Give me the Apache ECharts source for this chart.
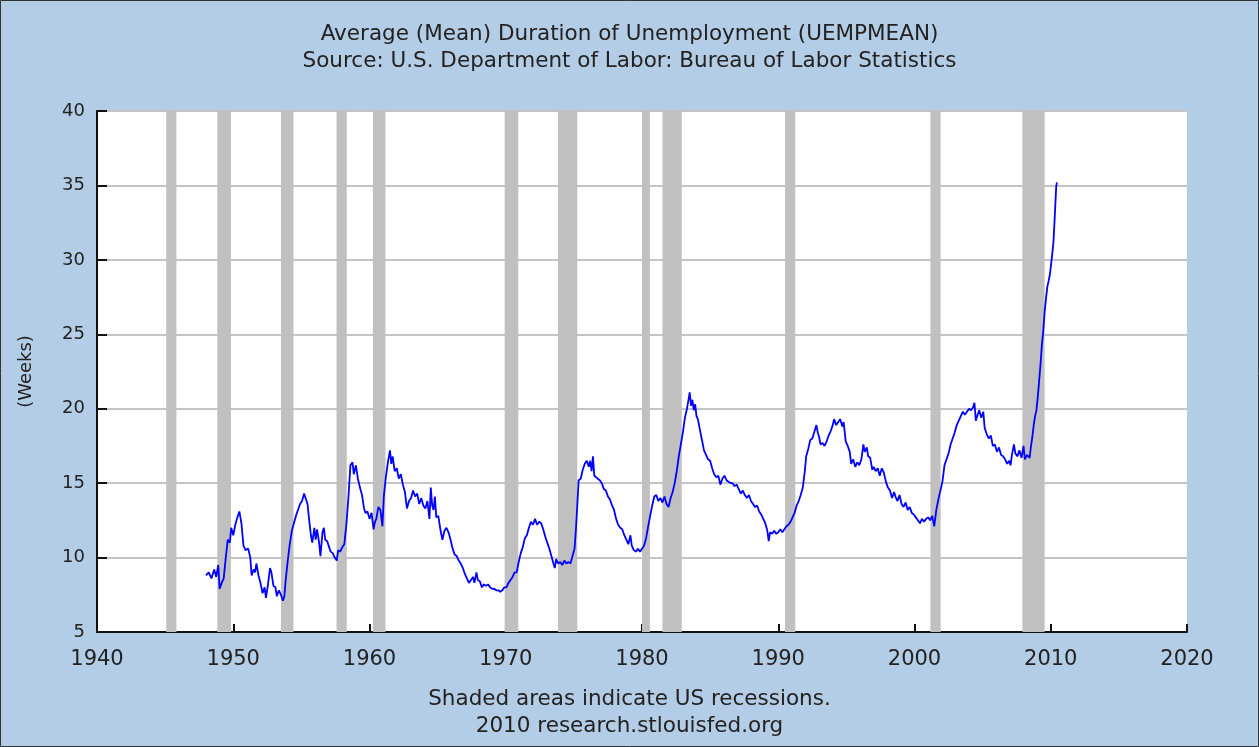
<!DOCTYPE html>
<html>
<head>
<meta charset="utf-8">
<title>UEMPMEAN</title>
<script src="https://cdn.jsdelivr.net/npm/echarts@6/dist/echarts.min.js"></script>
<style>
  html, body { margin: 0; padding: 0; background: #B4CDE6; }
  #main { width: 1259px; height: 747px; }
</style>
</head>
<body>
<div id="main"></div>
<script>
// 日期（小数年）
const dates = [
  1948.0, 1948.2, 1948.4, 1948.6, 1948.75, 1948.9, 1949.0, 1949.15, 1949.3, 1949.45, 1949.6, 1949.75, 1949.85,
  1950.0, 1950.15, 1950.3, 1950.45, 1950.6, 1950.75, 1950.9, 1951.1, 1951.25, 1951.35, 1951.5, 1951.6, 1951.7, 1951.85,
  1952.0, 1952.15, 1952.3, 1952.4, 1952.55, 1952.7, 1952.8, 1952.95, 1953.1, 1953.2, 1953.35, 1953.5, 1953.65, 1953.75, 1953.85,
  1954.0, 1954.15, 1954.3, 1954.45, 1954.6, 1954.75, 1954.9, 1955.05, 1955.2, 1955.3, 1955.45, 1955.6, 1955.7, 1955.8, 1955.95,
  1956.05, 1956.15, 1956.3, 1956.4, 1956.55, 1956.65, 1956.75, 1956.9, 1957.0, 1957.15, 1957.3, 1957.45, 1957.6, 1957.7, 1957.85,
  1958.0, 1958.15, 1958.3, 1958.45, 1958.6, 1958.75, 1958.85, 1959.0, 1959.15, 1959.3, 1959.45, 1959.6, 1959.7, 1959.85,
  1960.0, 1960.15, 1960.3, 1960.4, 1960.5, 1960.65, 1960.8, 1960.95, 1961.05, 1961.2, 1961.35, 1961.5, 1961.6, 1961.7, 1961.85,
  1962.0, 1962.15, 1962.3, 1962.45, 1962.6, 1962.75, 1962.9, 1963.05, 1963.2, 1963.35, 1963.5, 1963.65, 1963.8, 1963.95,
  1964.1, 1964.25, 1964.4, 1964.5, 1964.6, 1964.7, 1964.8, 1964.9, 1965.05, 1965.2, 1965.35, 1965.5, 1965.65, 1965.8, 1965.95,
  1966.1, 1966.25, 1966.4, 1966.55, 1966.7, 1966.85, 1967.0, 1967.15, 1967.3, 1967.45, 1967.6, 1967.7, 1967.85, 1967.95,
  1968.1, 1968.25, 1968.4, 1968.55, 1968.7, 1968.85, 1969.0, 1969.15, 1969.3, 1969.45, 1969.6, 1969.75, 1969.9,
  1970.05, 1970.2, 1970.35, 1970.5, 1970.65, 1970.8, 1970.95, 1971.1, 1971.25, 1971.4, 1971.55, 1971.7, 1971.85,
  1972.0, 1972.15, 1972.3, 1972.45, 1972.6, 1972.75, 1972.9, 1973.05, 1973.2, 1973.35, 1973.5, 1973.6, 1973.7, 1973.85,
  1974.0, 1974.15, 1974.3, 1974.45, 1974.6, 1974.75, 1974.9, 1975.05, 1975.15, 1975.25, 1975.35, 1975.5, 1975.65, 1975.8, 1975.95,
  1976.1, 1976.2, 1976.3, 1976.4, 1976.5, 1976.6, 1976.75, 1976.9, 1977.05, 1977.2, 1977.35, 1977.5, 1977.65, 1977.8, 1977.95,
  1978.1, 1978.25, 1978.4, 1978.55, 1978.7, 1978.85, 1979.0, 1979.15, 1979.25, 1979.4, 1979.55, 1979.7, 1979.85,
  1980.0, 1980.15, 1980.3, 1980.45, 1980.6, 1980.75, 1980.9, 1981.05, 1981.2, 1981.35, 1981.5, 1981.65, 1981.8, 1981.95,
  1982.1, 1982.25, 1982.4, 1982.55, 1982.7, 1982.85, 1983.0, 1983.15, 1983.3, 1983.45, 1983.5, 1983.6, 1983.7, 1983.8, 1983.9,
  1984.0, 1984.1, 1984.25, 1984.4, 1984.55, 1984.7, 1984.85, 1985.0, 1985.15, 1985.3, 1985.45, 1985.6, 1985.75, 1985.9,
  1986.05, 1986.2, 1986.35, 1986.5, 1986.65, 1986.8, 1986.95, 1987.1, 1987.25, 1987.4, 1987.55, 1987.7, 1987.85,
  1988.0, 1988.15, 1988.3, 1988.45, 1988.6, 1988.75, 1988.9, 1989.05, 1989.2, 1989.3, 1989.4, 1989.55, 1989.7, 1989.85,
  1990.0, 1990.15, 1990.3, 1990.45, 1990.6, 1990.75, 1990.9, 1991.05, 1991.2, 1991.35, 1991.5, 1991.65, 1991.8, 1991.95,
  1992.05, 1992.2, 1992.35, 1992.5, 1992.6, 1992.7, 1992.8, 1992.9, 1993.0, 1993.1, 1993.25, 1993.4, 1993.55, 1993.7, 1993.85,
  1994.0, 1994.1, 1994.25, 1994.4, 1994.55, 1994.7, 1994.8, 1994.95, 1995.1, 1995.25, 1995.35, 1995.5, 1995.65, 1995.8, 1995.95,
  1996.1, 1996.25, 1996.35, 1996.5, 1996.6, 1996.75, 1996.9, 1997.0, 1997.15, 1997.3, 1997.45, 1997.6, 1997.75, 1997.9,
  1998.05, 1998.2, 1998.35, 1998.5, 1998.6, 1998.75, 1998.9, 1999.05, 1999.2, 1999.35, 1999.5, 1999.65, 1999.8, 1999.95,
  2000.1, 2000.25, 2000.4, 2000.55, 2000.7, 2000.85, 2001.0, 2001.15, 2001.3, 2001.45, 2001.6, 2001.75, 2001.9,
  2002.05, 2002.2, 2002.35, 2002.5, 2002.65, 2002.8, 2002.95, 2003.1, 2003.25, 2003.4, 2003.55, 2003.7, 2003.85,
  2004.0, 2004.15, 2004.3, 2004.4, 2004.5, 2004.6, 2004.75, 2004.9, 2005.05, 2005.15, 2005.3, 2005.45, 2005.6, 2005.75, 2005.9,
  2006.05, 2006.2, 2006.35, 2006.5, 2006.65, 2006.8, 2006.95, 2007.05, 2007.15, 2007.3, 2007.4, 2007.55, 2007.7, 2007.85,
  2008.0, 2008.1, 2008.25, 2008.35, 2008.45, 2008.55, 2008.65, 2008.75, 2008.85, 2008.95,
  2009.05, 2009.15, 2009.25, 2009.35, 2009.45, 2009.55, 2009.65, 2009.75, 2009.85, 2009.95,
  2010.05, 2010.1, 2010.2, 2010.3, 2010.4, 2010.45
]
// 平均失业周数
const weeks = [
  8.8, 9.0, 8.6, 9.2, 8.7, 9.5, 7.9, 8.3, 8.6, 10.0, 11.2, 11.0, 12.0,
  11.5, 12.2, 12.7, 13.1, 12.3, 10.8, 10.5, 10.6, 10.0, 8.8, 9.2, 9.0, 9.6, 8.8,
  8.3, 7.6, 8.0, 7.3, 8.2, 9.3, 9.0, 8.1, 8.0, 7.4, 7.8, 7.5, 7.1, 7.4, 8.5,
  9.8, 10.9, 11.8, 12.3, 12.8, 13.2, 13.6, 13.8, 14.3, 14.4, 13.6, 12.3, 11.5, 11.0, 12.0,
  11.2, 11.9, 11.0, 10.1, 11.7, 12.0, 11.2, 11.1, 10.8, 10.4, 10.3, 10.0, 9.8, 10.5, 10.4,
  10.7, 10.9, 12.2, 14.0, 16.2, 16.4, 15.6, 16.2, 15.3, 14.7, 14.2, 13.3, 13.0, 13.1,
  12.6, 13.0, 11.9, 12.4, 12.6, 13.4, 13.2, 12.1, 14.1, 15.4, 16.4, 17.2, 16.3, 16.8, 15.8,
  16.0, 15.3, 15.6, 14.9, 14.4, 13.3, 13.8, 14.0, 14.5, 14.1, 14.3, 13.6, 14.0, 13.5,
  13.3, 13.8, 12.6, 14.7, 13.5, 13.2, 14.1, 12.7, 12.8, 11.9, 11.2, 11.8, 12.0, 11.7, 11.2,
  10.6, 10.2, 10.1, 9.8, 9.6, 9.3, 8.9, 8.6, 8.3, 8.5, 8.7, 8.3, 9.0, 8.5,
  8.4, 8.0, 8.2, 8.1, 8.2, 8.0, 7.9, 7.9, 7.8, 7.8, 7.7, 7.8, 8.0,
  8.0, 8.3, 8.5, 8.7, 9.0, 9.0, 9.7, 10.3, 10.7, 11.3, 11.5, 12.0, 12.4,
  12.2, 12.6, 12.2, 12.4, 12.3, 11.9, 11.4, 11.0, 10.6, 10.1, 9.6, 9.3, 9.9, 9.6,
  9.7, 9.5, 9.8, 9.6, 9.7, 9.6, 10.1, 10.6, 11.9, 13.5, 15.2, 15.3, 15.9, 16.3, 16.5,
  16.1, 16.5, 15.8, 16.8, 15.5, 15.6, 15.3, 15.2, 15.0, 14.6, 14.5, 14.1, 13.9, 13.5, 13.2,
  12.6, 12.2, 12.0, 11.9, 11.5, 11.2, 10.9, 11.5, 10.8, 10.5, 10.4, 10.6, 10.4,
  10.6, 10.8, 11.3, 12.1, 12.8, 13.5, 14.1, 14.2, 13.8, 14.0, 13.7, 14.1, 13.6, 13.4,
  14.0, 14.4, 15.0, 15.8, 16.8, 17.6, 18.4, 19.4, 20.0, 20.8, 21.1, 20.2, 20.6, 19.9, 20.3,
  19.5, 19.3, 18.6, 17.9, 17.2, 16.9, 16.6, 16.5, 16.0, 15.6, 15.4, 15.5, 14.9, 15.3,
  15.5, 15.2, 15.1, 15.0, 15.0, 14.8, 14.9, 14.6, 14.3, 14.5, 14.2, 14.0, 14.2,
  13.8, 13.6, 13.4, 13.5, 13.1, 12.9, 12.6, 12.3, 11.8, 11.1, 11.7, 11.6, 11.8, 11.6,
  11.7, 11.9, 11.7, 11.9, 12.1, 12.2, 12.4, 12.7, 13.0, 13.5, 13.8, 14.2, 14.7, 15.8,
  16.8, 17.3, 17.9, 18.0, 18.3, 18.6, 18.9, 18.4, 18.1, 17.6, 17.7, 17.5, 17.8, 18.2, 18.5,
  18.9, 19.3, 18.9, 19.1, 19.3, 18.8, 19.1, 17.8, 17.5, 17.1, 16.3, 16.6, 16.1, 16.4, 16.2,
  16.6, 17.6, 17.1, 17.4, 16.8, 16.7, 15.9, 16.1, 15.8, 16.0, 15.5, 16.0, 15.7, 15.1,
  14.7, 14.5, 14.0, 14.4, 14.1, 13.8, 14.2, 13.6, 13.4, 13.7, 13.2, 13.4, 13.0, 12.9,
  12.7, 12.5, 12.3, 12.6, 12.4, 12.6, 12.7, 12.5, 12.8, 12.1, 13.2, 13.9, 14.5,
  15.1, 16.2, 16.6, 17.0, 17.6, 18.0, 18.4, 18.9, 19.2, 19.5, 19.8, 19.6, 19.8,
  20.0, 19.9, 20.1, 20.4, 19.2, 19.5, 19.9, 19.4, 19.8, 18.7, 18.3, 18.0, 18.2, 17.5, 17.6,
  17.1, 17.4, 16.9, 16.8, 16.6, 16.3, 16.5, 16.2, 16.9, 17.6, 17.0, 16.8, 17.2, 16.7,
  17.5, 16.6, 16.9, 17.0, 16.7, 17.5, 18.1, 18.9, 19.5, 19.9,
  20.8, 21.9, 23.0, 24.3, 25.2, 26.5, 27.4, 28.2, 28.6, 29.1,
  29.9, 30.3, 31.2, 33.0, 34.9, 35.2
]
// 经济衰退区间
const recStart = [1945.08, 1948.83, 1953.5, 1957.58, 1960.25, 1969.92, 1973.83, 1980.0, 1981.5, 1990.5, 2001.17, 2007.92]
const recEnd = [1945.83, 1949.83, 1954.42, 1958.33, 1961.17, 1970.92, 1975.25, 1980.58, 1982.92, 1991.25, 2001.92, 2009.55]
const yTicks = [5, 10, 15, 20, 25, 30, 35, 40]

const chart = echarts.init(document.getElementById('main'), null, { renderer: 'canvas' })

const lineData = dates.map((d, i) => [d, weeks[i]])
const areas = recStart.map((s, i) => [{ xAxis: s }, { xAxis: recEnd[i] }])

const font = 'DejaVu Sans'
const option = {
  backgroundColor: '#B4CDE6',
  animation: false,
  title: [
    {
      text: 'Average (Mean) Duration of Unemployment (UEMPMEAN)',
      subtext: 'Source: U.S. Department of Labor: Bureau of Labor Statistics',
      left: 'center',
      top: 18,
      itemGap: 5,
      textStyle: { fontFamily: font, fontSize: 21.5, fontWeight: 'normal', color: '#222' },
      subtextStyle: { fontFamily: font, fontSize: 21.5, color: '#222' }
    },
    {
      text: 'Shaded areas indicate US recessions.',
      subtext: '2010 research.stlouisfed.org',
      left: 'center',
      top: 683,
      itemGap: 5,
      textStyle: { fontFamily: font, fontSize: 21.5, fontWeight: 'normal', color: '#222' },
      subtextStyle: { fontFamily: font, fontSize: 21.5, color: '#222' }
    }
  ],
  grid: { left: 97, right: 72, top: 111, bottom: 115 },
  xAxis: {
    type: 'value',
    min: 1940,
    max: 2020,
    interval: 10,
    axisLine: { show: true, onZero: false, lineStyle: { color: '#111', width: 2 } },
    axisTick: { show: true, inside: true, length: 8, lineStyle: { color: '#111', width: 2 } },
    axisLabel: { formatter: v => String(v), fontFamily: font, fontSize: 21, color: '#222', margin: 17 },
    splitLine: { show: false }
  },
  yAxis: {
    type: 'value',
    min: yTicks[0],
    max: yTicks[yTicks.length - 1],
    interval: 5,
    name: '(Weeks)',
    nameLocation: 'middle',
    nameGap: 62,
    nameTextStyle: { fontFamily: font, fontSize: 18, color: '#222' },
    axisLine: { show: true, lineStyle: { color: '#111', width: 2 } },
    axisTick: { show: true, inside: true, length: 10, lineStyle: { color: '#111', width: 2 } },
    axisLabel: { fontFamily: font, fontSize: 18, color: '#222', margin: 12 },
    splitLine: { show: true, lineStyle: { color: '#C4C4C4', width: 2 } }
  },
  graphic: [
    {
      type: 'rect',
      silent: true,
      shape: { x: 97, y: 111, width: 1090, height: 521 },
      style: { fill: '#fff' },
      z: -10
    },
    {
      type: 'rect',
      silent: true,
      shape: { x: 0.5, y: 0.5, width: 1258, height: 746 },
      style: { fill: 'none', stroke: '#333', lineWidth: 1 }
    }
  ],
  series: [
    {
      type: 'line',
      data: lineData,
      showSymbol: false,
      lineStyle: { color: '#0000FF', width: 1.8 },
      z: 5,
      markArea: {
        silent: true,
        itemStyle: { color: '#C0C0C0', opacity: 1 },
        data: areas
      }
    }
  ]
}
chart.setOption(option)
</script>
</body>
</html>
